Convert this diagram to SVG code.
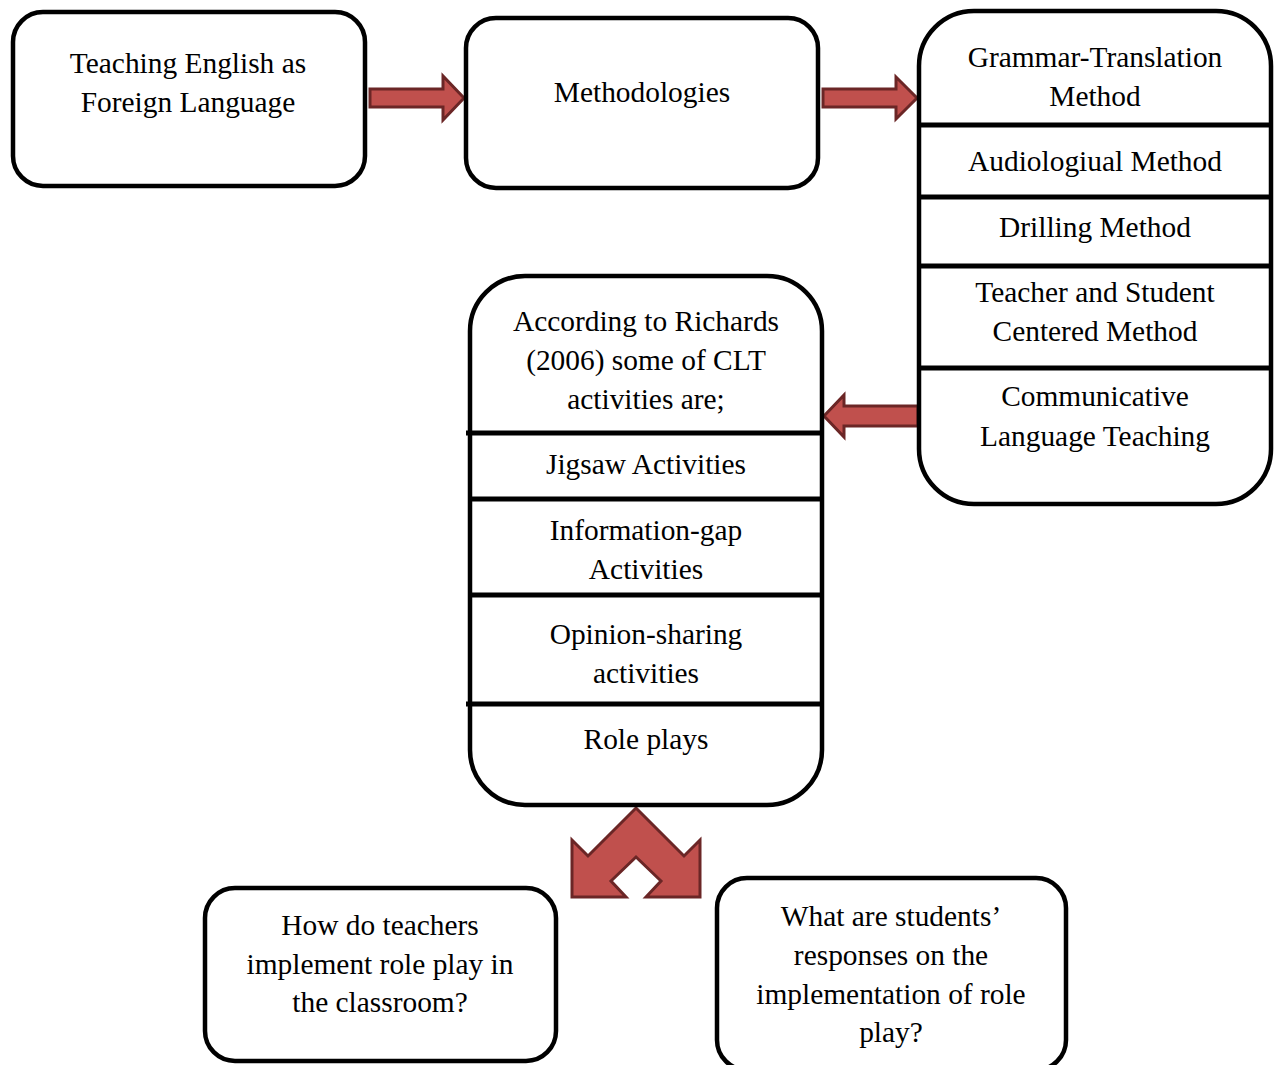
<svg xmlns="http://www.w3.org/2000/svg" width="1278" height="1065" viewBox="0 0 1278 1065">
<style>
.box{fill:#fff;stroke:#000;stroke-width:4.5}
.div{stroke:#000;stroke-width:5}
.arr{fill:#C0504D;stroke:#6B2626;stroke-width:3;stroke-linejoin:miter}
text{font-family:"Liberation Serif","Times New Roman",serif;font-size:29.4px;fill:#000;text-anchor:middle}
</style>
<rect width="1278" height="1065" fill="#fff"/>
<g id="connectors">
<polygon class="arr" points="370,89 443,89 443,76 464,98 443,120 443,107 370,107"/>
<polygon class="arr" points="823,89 896,89 896,77 917,98 896,119 896,107 823,107"/>
<polygon class="arr" points="918,406 844,406 844,395 824,416 844,437 844,426 918,426"/>
<polygon class="arr" points="636,808 684,856 700,840 700,897 646,897 661,881 636,857 611,881 626,897 572,897 572,840 588,856"/>
</g>
<g id="n1">
<rect class="box" x="13" y="12" width="352" height="174" rx="30"/>
<text x="188" y="73">Teaching English as</text>
<text x="188" y="112">Foreign Language</text>
</g>
<g id="n2">
<rect class="box" x="466" y="18" width="352" height="170" rx="30"/>
<text x="642" y="102">Methodologies</text>
</g>
<g id="n3">
<rect class="box" x="919" y="11" width="352" height="493" rx="55"/>
<line class="div" x1="919" y1="125" x2="1271" y2="125"/>
<line class="div" x1="919" y1="197" x2="1271" y2="197"/>
<line class="div" x1="919" y1="266" x2="1271" y2="266"/>
<line class="div" x1="919" y1="368" x2="1271" y2="368"/>
<text x="1095" y="67">Grammar-Translation</text>
<text x="1095" y="106">Method</text>
<text x="1095" y="171">Audiologiual Method</text>
<text x="1095" y="237">Drilling Method</text>
<text x="1095" y="302">Teacher and Student</text>
<text x="1095" y="341">Centered Method</text>
<text x="1095" y="406">Communicative</text>
<text x="1095" y="446">Language Teaching</text>
</g>
<g id="n4">
<rect class="box" x="470" y="276" width="352" height="529" rx="55"/>
<line class="div" x1="466" y1="433" x2="822" y2="433"/>
<line class="div" x1="470" y1="499" x2="822" y2="499"/>
<line class="div" x1="470" y1="595" x2="822" y2="595"/>
<line class="div" x1="466" y1="704" x2="822" y2="704"/>
<text x="646" y="331">According to Richards</text>
<text x="646" y="370">(2006) some of CLT</text>
<text x="646" y="409">activities are;</text>
<text x="646" y="474">Jigsaw Activities</text>
<text x="646" y="540">Information-gap</text>
<text x="646" y="579">Activities</text>
<text x="646" y="644">Opinion-sharing</text>
<text x="646" y="683">activities</text>
<text x="646" y="749">Role plays</text>
</g>
<g id="n5">
<rect class="box" x="205" y="888" width="351" height="173" rx="30"/>
<text x="380" y="935">How do teachers</text>
<text x="380" y="974">implement role play in</text>
<text x="380" y="1012">the classroom?</text>
</g>
<g id="n6">
<rect class="box" x="717" y="878" width="349" height="192" rx="30"/>
<text x="891" y="926">What are students’</text>
<text x="891" y="965">responses on the</text>
<text x="891" y="1004">implementation of role</text>
<text x="891" y="1042">play?</text>
</g>
</svg>
